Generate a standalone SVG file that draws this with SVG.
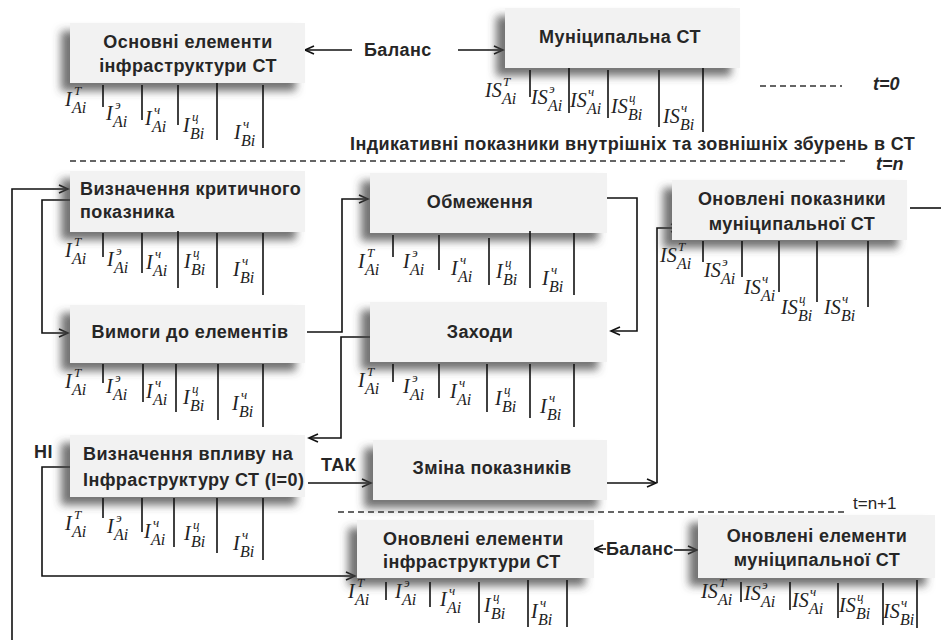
<svg xmlns="http://www.w3.org/2000/svg" width="941" height="644" viewBox="0 0 941 644">
<style>
.bx{fill:#f2f2f2;filter:url(#sh)}
.t{font-family:"Liberation Sans",Arial,sans-serif;font-weight:bold;font-size:18px;letter-spacing:0.4px;fill:#262626}
.c{text-anchor:middle}
.ti{font-family:"Liberation Sans",Arial,sans-serif;font-weight:bold;font-style:italic;font-size:18px;fill:#262626}
.m{font-family:"Liberation Serif","Times New Roman",serif;font-style:italic;font-size:20px;fill:#222}
.sp{font-family:"Liberation Serif","Times New Roman",serif;font-style:italic;font-size:13px;fill:#222}
.sb{font-family:"Liberation Serif","Times New Roman",serif;font-style:italic;font-size:16px;fill:#222}
.tk{stroke:#111;stroke-width:1.6}
.ln{fill:none;stroke:#111;stroke-width:1.6}
.ar{fill:none;stroke:#111;stroke-width:1.6;marker-end:url(#ah)}
.ds{stroke:#333;stroke-width:1.6;stroke-dasharray:6 4}
</style>
<defs>
<filter id="sh" x="-20%" y="-30%" width="140%" height="170%">
<feDropShadow dx="-9" dy="8" stdDeviation="4" flood-color="#444" flood-opacity="0.75"/>
</filter>
<marker id="ah" markerWidth="12" markerHeight="10" refX="10" refY="5" orient="auto" markerUnits="userSpaceOnUse">
<path d="M1,1 L10,5 L1,9" fill="none" stroke="#111" stroke-width="1.6"/>
</marker>
</defs>

<!-- separators and time labels -->
<g id="time">
<line class="ds" x1="760" y1="86" x2="842" y2="86"/>
<text class="ti" x="873" y="90">t=0</text>
<text class="t" x="350" y="150">Індикативні показники внутрішніх та зовнішніх збурень в СТ</text>
<line class="ds" x1="70" y1="161" x2="845" y2="161"/>
<text class="ti" x="876" y="170">t=n</text>
<line class="ds" x1="338" y1="512" x2="845" y2="512"/>
<text class="t" x="853" y="509" style="font-weight:normal;font-size:17px;letter-spacing:0">t=n+1</text>
</g>

<!-- connectors -->
<g id="connectors">
<polyline class="ar" points="12,640 12,189 68,189"/>
<polyline class="ar" points="70,200 42,200 42,333 68,333"/>
<polyline class="ar" points="307,332 342,332 342,199 368,199"/>
<polyline class="ar" points="607,198 637,198 637,331 611,331"/>
<polyline class="ar" points="370,337 341,337 341,438 309,438"/>
<polyline class="ar" points="70,467 42,467 42,576 355,576"/>
<line class="ar" x1="308" y1="483" x2="371" y2="483"/>
<line class="ar" x1="607" y1="483" x2="656" y2="483"/>
<polyline class="ar" points="657,483 657,228 680,228"/>
<line class="ln" x1="910" y1="208" x2="941" y2="208"/>
<line class="ar" x1="352" y1="50" x2="305" y2="50"/>
<line class="ar" x1="458" y1="50" x2="503" y2="50"/>
<line class="ar" x1="606" y1="549" x2="594" y2="549"/>
<line class="ar" x1="674" y1="550" x2="697" y2="550"/>
<text class="t" x="364" y="56">Баланс</text>
<text class="t" x="606" y="555">Баланс</text>
<text class="t" x="34" y="458">НІ</text>
<text class="t" x="321" y="471">ТАК</text>
</g>

<!-- Box 1 -->
<g id="n1">
<rect class="bx" x="70" y="23" width="235" height="60"/>
<text class="t c" x="188" y="48">Основні елементи</text>
<text class="t c" x="188" y="72">інфраструктури СТ</text>
<line class="tk" x1="103" y1="85" x2="103" y2="107"/>
<line class="tk" x1="142" y1="85" x2="142" y2="120"/>
<line class="tk" x1="178" y1="85" x2="178" y2="125"/>
<line class="tk" x1="217" y1="83" x2="217" y2="140"/>
<line class="tk" x1="263" y1="85" x2="263" y2="148"/>
<g transform="translate(65,106)"><text class="m">I</text><text class="sp" x="9" y="-11">T</text><text class="sb" x="7" y="7">Ai</text></g>
<g transform="translate(106,120)"><text class="m">I</text><text class="sp" x="9" y="-11">э</text><text class="sb" x="7" y="7">Ai</text></g>
<g transform="translate(145,125)"><text class="m">I</text><text class="sp" x="9" y="-11">ч</text><text class="sb" x="7" y="7">Ai</text></g>
<g transform="translate(183,132)"><text class="m">I</text><text class="sp" x="9" y="-11">ц</text><text class="sb" x="7" y="7">Bi</text></g>
<g transform="translate(234,139)"><text class="m">I</text><text class="sp" x="9" y="-11">ч</text><text class="sb" x="7" y="7">Bi</text></g>
</g>

<!-- Box 2 -->
<g id="n2">
<rect class="bx" x="505" y="8" width="235" height="60"/>
<text class="t c" x="620" y="43">Муніципальна СТ</text>
<line class="tk" x1="530" y1="70" x2="530" y2="97"/>
<line class="tk" x1="569" y1="68" x2="569" y2="113"/>
<line class="tk" x1="608" y1="70" x2="608" y2="118"/>
<line class="tk" x1="659" y1="70" x2="659" y2="127"/>
<line class="tk" x1="703" y1="68" x2="703" y2="132"/>
<g transform="translate(485,97)"><text class="m">IS</text><text class="sp" x="18" y="-11">T</text><text class="sb" x="17" y="7">Ai</text></g>
<g transform="translate(531,104)"><text class="m">IS</text><text class="sp" x="18" y="-11">э</text><text class="sb" x="17" y="7">Ai</text></g>
<g transform="translate(570,107)"><text class="m">IS</text><text class="sp" x="18" y="-11">ч</text><text class="sb" x="17" y="7">Ai</text></g>
<g transform="translate(611,113)"><text class="m">IS</text><text class="sp" x="18" y="-11">ц</text><text class="sb" x="17" y="7">Bi</text></g>
<g transform="translate(663,123)"><text class="m">IS</text><text class="sp" x="18" y="-11">ч</text><text class="sb" x="17" y="7">Bi</text></g>
</g>

<!-- Box 3 -->
<g id="n3">
<rect class="bx" x="70" y="171" width="235" height="61"/>
<text class="t" x="80" y="195">Визначення критичного</text>
<text class="t" x="80" y="218">показника</text>
<line class="tk" x1="103" y1="233" x2="103" y2="257"/>
<line class="tk" x1="142" y1="233" x2="142" y2="273"/>
<line class="tk" x1="178" y1="231" x2="178" y2="288"/>
<line class="tk" x1="217" y1="233" x2="217" y2="288"/>
<line class="tk" x1="263" y1="233" x2="263" y2="295"/>
<g transform="translate(65,257)"><text class="m">I</text><text class="sp" x="9" y="-11">T</text><text class="sb" x="7" y="7">Ai</text></g>
<g transform="translate(107,266)"><text class="m">I</text><text class="sp" x="9" y="-11">э</text><text class="sb" x="7" y="7">Ai</text></g>
<g transform="translate(146,269)"><text class="m">I</text><text class="sp" x="9" y="-11">ч</text><text class="sb" x="7" y="7">Ai</text></g>
<g transform="translate(184,268)"><text class="m">I</text><text class="sp" x="9" y="-11">ц</text><text class="sb" x="7" y="7">Bi</text></g>
<g transform="translate(233,276)"><text class="m">I</text><text class="sp" x="9" y="-11">ч</text><text class="sb" x="7" y="7">Bi</text></g>
</g>

<!-- Box 4 -->
<g id="n4">
<rect class="bx" x="70" y="305" width="235" height="58"/>
<text class="t c" x="190" y="338">Вимоги до елементів</text>
<line class="tk" x1="103" y1="364" x2="103" y2="383"/>
<line class="tk" x1="143" y1="364" x2="143" y2="402"/>
<line class="tk" x1="176" y1="364" x2="176" y2="412"/>
<line class="tk" x1="218" y1="364" x2="218" y2="420"/>
<line class="tk" x1="263" y1="364" x2="263" y2="427"/>
<g transform="translate(65,388)"><text class="m">I</text><text class="sp" x="9" y="-11">T</text><text class="sb" x="7" y="7">Ai</text></g>
<g transform="translate(106,393)"><text class="m">I</text><text class="sp" x="9" y="-11">э</text><text class="sb" x="7" y="7">Ai</text></g>
<g transform="translate(146,398)"><text class="m">I</text><text class="sp" x="9" y="-11">ч</text><text class="sb" x="7" y="7">Ai</text></g>
<g transform="translate(183,404)"><text class="m">I</text><text class="sp" x="9" y="-11">ц</text><text class="sb" x="7" y="7">Bi</text></g>
<g transform="translate(232,410)"><text class="m">I</text><text class="sp" x="9" y="-11">ч</text><text class="sb" x="7" y="7">Bi</text></g>
</g>

<!-- Box 5 -->
<g id="n5">
<rect class="bx" x="370" y="173" width="237" height="60"/>
<text class="t c" x="480" y="208">Обмеження</text>
<line class="tk" x1="393" y1="235" x2="393" y2="257"/>
<line class="tk" x1="439" y1="235" x2="439" y2="270"/>
<line class="tk" x1="489" y1="238" x2="489" y2="285"/>
<line class="tk" x1="530" y1="231" x2="530" y2="288"/>
<line class="tk" x1="574" y1="233" x2="574" y2="295"/>
<g transform="translate(358,268)"><text class="m">I</text><text class="sp" x="9" y="-11">T</text><text class="sb" x="7" y="7">Ai</text></g>
<g transform="translate(403,268)"><text class="m">I</text><text class="sp" x="9" y="-11">э</text><text class="sb" x="7" y="7">Ai</text></g>
<g transform="translate(451,275)"><text class="m">I</text><text class="sp" x="9" y="-11">ч</text><text class="sb" x="7" y="7">Ai</text></g>
<g transform="translate(496,278)"><text class="m">I</text><text class="sp" x="9" y="-11">ц</text><text class="sb" x="7" y="7">Bi</text></g>
<g transform="translate(542,285)"><text class="m">I</text><text class="sp" x="9" y="-11">ч</text><text class="sb" x="7" y="7">Bi</text></g>
</g>

<!-- Box 6 -->
<g id="n6">
<rect class="bx" x="370" y="302" width="237" height="60"/>
<text class="t c" x="480" y="338">Заходи</text>
<line class="tk" x1="393" y1="364" x2="393" y2="382"/>
<line class="tk" x1="439" y1="364" x2="439" y2="398"/>
<line class="tk" x1="487" y1="364" x2="487" y2="412"/>
<line class="tk" x1="530" y1="364" x2="530" y2="418"/>
<line class="tk" x1="574" y1="364" x2="574" y2="427"/>
<g transform="translate(358,387)"><text class="m">I</text><text class="sp" x="9" y="-11">T</text><text class="sb" x="7" y="7">Ai</text></g>
<g transform="translate(403,393)"><text class="m">I</text><text class="sp" x="9" y="-11">э</text><text class="sb" x="7" y="7">Ai</text></g>
<g transform="translate(450,398)"><text class="m">I</text><text class="sp" x="9" y="-11">ч</text><text class="sb" x="7" y="7">Ai</text></g>
<g transform="translate(495,405)"><text class="m">I</text><text class="sp" x="9" y="-11">ц</text><text class="sb" x="7" y="7">Bi</text></g>
<g transform="translate(540,413)"><text class="m">I</text><text class="sp" x="9" y="-11">ч</text><text class="sb" x="7" y="7">Bi</text></g>
</g>

<!-- Box 7 -->
<g id="n7">
<rect class="bx" x="70" y="435" width="235" height="62"/>
<text class="t" x="83" y="460">Визначення впливу на</text>
<text class="t" x="83" y="486">Інфраструктуру СТ (I=0)</text>
<line class="tk" x1="103" y1="498" x2="103" y2="518"/>
<line class="tk" x1="142" y1="498" x2="142" y2="532"/>
<line class="tk" x1="174" y1="498" x2="174" y2="547"/>
<line class="tk" x1="217" y1="498" x2="217" y2="553"/>
<line class="tk" x1="263" y1="498" x2="263" y2="560"/>
<g transform="translate(65,530)"><text class="m">I</text><text class="sp" x="9" y="-11">T</text><text class="sb" x="7" y="7">Ai</text></g>
<g transform="translate(107,533)"><text class="m">I</text><text class="sp" x="9" y="-11">э</text><text class="sb" x="7" y="7">Ai</text></g>
<g transform="translate(144,538)"><text class="m">I</text><text class="sp" x="9" y="-11">ч</text><text class="sb" x="7" y="7">Ai</text></g>
<g transform="translate(184,540)"><text class="m">I</text><text class="sp" x="9" y="-11">ц</text><text class="sb" x="7" y="7">Bi</text></g>
<g transform="translate(233,550)"><text class="m">I</text><text class="sp" x="9" y="-11">ч</text><text class="sb" x="7" y="7">Bi</text></g>
</g>

<!-- Box 8 -->
<g id="n8">
<rect class="bx" x="373" y="440" width="234" height="60"/>
<text class="t c" x="492" y="474">Зміна показників</text>
</g>

<!-- Box 9 -->
<g id="n9">
<rect class="bx" x="672" y="180" width="235" height="60"/>
<text class="t c" x="792" y="205">Оновлені показники</text>
<text class="t c" x="792" y="230">муніципальної СТ</text>
<line class="tk" x1="703" y1="241" x2="703" y2="262"/>
<line class="tk" x1="742" y1="241" x2="742" y2="277"/>
<line class="tk" x1="779" y1="241" x2="779" y2="292"/>
<line class="tk" x1="817" y1="241" x2="817" y2="302"/>
<line class="tk" x1="868" y1="241" x2="868" y2="307"/>
<g transform="translate(660,262)"><text class="m">IS</text><text class="sp" x="18" y="-11">T</text><text class="sb" x="17" y="7">Ai</text></g>
<g transform="translate(704,277)"><text class="m">IS</text><text class="sp" x="18" y="-11">э</text><text class="sb" x="17" y="7">Ai</text></g>
<g transform="translate(744,294)"><text class="m">IS</text><text class="sp" x="18" y="-11">ч</text><text class="sb" x="17" y="7">Ai</text></g>
<g transform="translate(781,314)"><text class="m">IS</text><text class="sp" x="18" y="-11">ц</text><text class="sb" x="17" y="7">Bi</text></g>
<g transform="translate(824,314)"><text class="m">IS</text><text class="sp" x="18" y="-11">ч</text><text class="sb" x="17" y="7">Bi</text></g>
</g>

<!-- Box 10 -->
<g id="n10">
<rect class="bx" x="357" y="520" width="237" height="58"/>
<text class="t" x="383" y="545">Оновлені елементи</text>
<text class="t" x="383" y="568">інфраструктури СТ</text>
<line class="tk" x1="386" y1="582" x2="386" y2="600"/>
<line class="tk" x1="430" y1="582" x2="430" y2="607"/>
<line class="tk" x1="479" y1="582" x2="479" y2="623"/>
<line class="tk" x1="528" y1="580" x2="528" y2="627"/>
<line class="tk" x1="567" y1="580" x2="567" y2="627"/>
<g transform="translate(348,598)"><text class="m">I</text><text class="sp" x="9" y="-11">T</text><text class="sb" x="7" y="7">Ai</text></g>
<g transform="translate(395,598)"><text class="m">I</text><text class="sp" x="9" y="-11">э</text><text class="sb" x="7" y="7">Ai</text></g>
<g transform="translate(440,606)"><text class="m">I</text><text class="sp" x="9" y="-11">ч</text><text class="sb" x="7" y="7">Ai</text></g>
<g transform="translate(484,612)"><text class="m">I</text><text class="sp" x="9" y="-11">ц</text><text class="sb" x="7" y="7">Bi</text></g>
<g transform="translate(531,618)"><text class="m">I</text><text class="sp" x="9" y="-11">ч</text><text class="sb" x="7" y="7">Bi</text></g>
</g>

<!-- Box 11 -->
<g id="n11">
<rect class="bx" x="698" y="515" width="237" height="63"/>
<text class="t c" x="817" y="542">Оновлені елементи</text>
<text class="t c" x="817" y="566">муніципальної СТ</text>
<line class="tk" x1="741" y1="582" x2="741" y2="602"/>
<line class="tk" x1="790" y1="582" x2="790" y2="610"/>
<line class="tk" x1="838" y1="583" x2="838" y2="618"/>
<line class="tk" x1="883" y1="583" x2="883" y2="625"/>
<line class="tk" x1="917" y1="580" x2="917" y2="628"/>
<g transform="translate(701,598)"><text class="m">IS</text><text class="sp" x="18" y="-11">T</text><text class="sb" x="17" y="7">Ai</text></g>
<g transform="translate(744,600)"><text class="m">IS</text><text class="sp" x="18" y="-11">э</text><text class="sb" x="17" y="7">Ai</text></g>
<g transform="translate(792,607)"><text class="m">IS</text><text class="sp" x="18" y="-11">ч</text><text class="sb" x="17" y="7">Ai</text></g>
<g transform="translate(839,612)"><text class="m">IS</text><text class="sp" x="18" y="-11">ц</text><text class="sb" x="17" y="7">Bi</text></g>
<g transform="translate(883,618)"><text class="m">IS</text><text class="sp" x="18" y="-11">ч</text><text class="sb" x="17" y="7">Bi</text></g>
</g>
</svg>
